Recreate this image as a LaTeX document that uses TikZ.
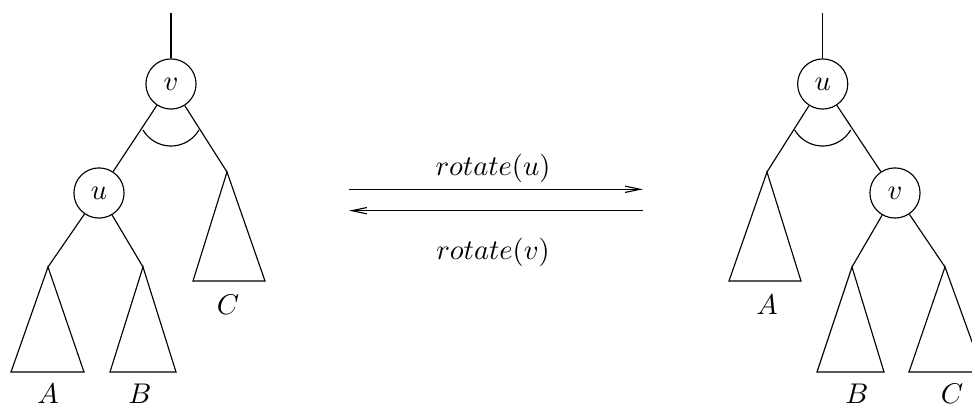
\documentclass[tikz,border=0pt]{standalone}
\usetikzlibrary{arrows.meta}

\begin{document}
\begin{tikzpicture}[
    x=0.351pt,
    y=0.351pt,
    knot/.style={
        draw,
        circle,
        inner sep=0pt,
        minimum size=17.6pt
    },
    subtree/.style={
        line join=miter
    },
    arrow/.style={
        -{Straight Barb[length=5.3pt,width=2.2pt]}
    }]

\clip (0,0) rectangle (972,408);

% Left tree
\coordinate (topL) at (171,395);
\node[knot] (vL) at (171,324) {$v$};
\node[knot] (uL) at (99,215) {$u$};
\coordinate (aL) at (48,141);
\coordinate (bL) at (143,141);
\coordinate (cL) at (227,236);

\draw (topL) -- (vL);
\draw (vL) -- (uL);
\draw (vL) -- (cL);
\draw (uL) -- (aL);
\draw (uL) -- (bL);

\draw (143,278) arc[start angle=210.5, end angle=329.5, radius=32.5];

\draw[subtree] (aL) -- (11,36) -- (84,36) -- cycle;
\draw[subtree] (bL) -- (110,36) -- (176,36) -- cycle;
\draw[subtree] (cL) -- (193,127) -- (265,127) -- cycle;

\node (labAL) at (48,14) {$A$};
\node (labBL) at (140,14) {$B$};
\node (labCL) at (228,103) {$C$};


% Arrows
\coordinate (fwdS) at (349,218.7);
\coordinate (fwdE) at (643,218.7);
\coordinate (bwdS) at (643,197.3);
\coordinate (bwdE) at (349,197.3);

\draw[arrow] (fwdS) -- (fwdE);
\draw[arrow] (bwdS) -- (bwdE);

\node (rotU) at (493,240) {$rotate(u)$};
\node (rotV) at (493,156) {$rotate(v)$};


% Right tree
\coordinate (topR) at (822.7,395);
\node[knot] (uR) at (822.7,324) {$u$};
\node[knot] (vR) at (895,215) {$v$};
\coordinate (aR) at (767,236);
\coordinate (bR) at (852,141);
\coordinate (cR) at (945,141);

\draw (topR) -- (uR);
\draw (uR) -- (aR);
\draw (uR) -- (vR);
\draw (vR) -- (bR);
\draw (vR) -- (cR);

\draw (794.7,278) arc[start angle=210.5, end angle=329.5, radius=32.5];

\draw[subtree] (aR) -- (729,127) -- (801,127) -- cycle;
\draw[subtree] (bR) -- (817,36) -- (884,36) -- cycle;
\draw[subtree] (cR) -- (909,36) -- (983,36) -- cycle;

\node (labAR) at (767,103) {$A$};
\node (labBR) at (857,14) {$B$};
\node (labCR) at (952,14) {$C$};

\end{tikzpicture}
\end{document}
